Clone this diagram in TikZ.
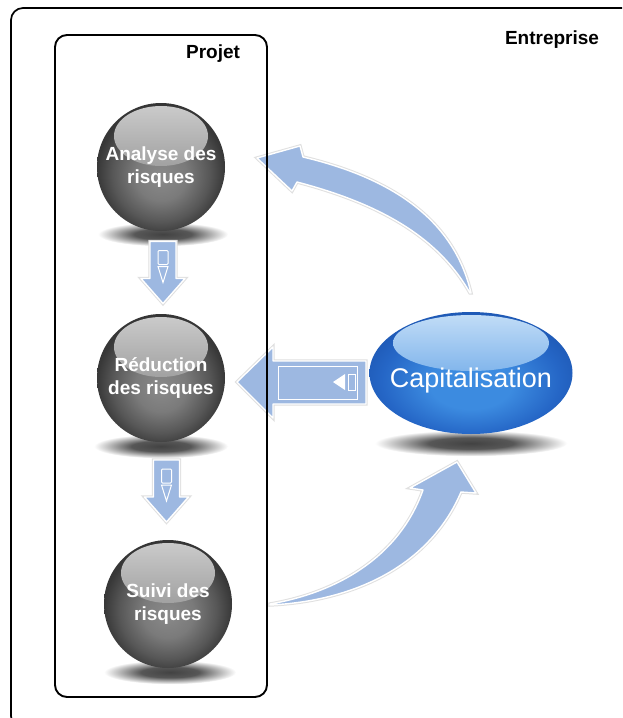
\documentclass[tikz,border=0pt]{standalone}
\usepackage{fontspec}
\setmainfont{Liberation Sans}
\usetikzlibrary{positioning,calc,backgrounds,shapes.geometric}

\definecolor{arrowblue}{HTML}{9DB8E1}
\definecolor{capmid}{HTML}{3C8BE0}
\definecolor{capdark}{HTML}{2566C6}
\definecolor{capdeep}{HTML}{1B52AC}
\definecolor{capgloss}{HTML}{C4DEF7}

\pgfdeclareradialshading{spherebody}{\pgfpoint{0bp}{-4bp}}{color(0bp)=(black!46); color(10bp)=(black!52); color(19bp)=(black!66); color(25bp)=(black!78); color(31bp)=(black!82); color(50bp)=(black!82)}
\pgfdeclareradialshading{capbody}{\pgfpoint{0bp}{-6bp}}{color(0bp)=(capmid); color(10bp)=(capmid); color(22bp)=(capdark); color(31bp)=(capdeep); color(50bp)=(capdeep)}
\pgfdeclareradialshading{blurshadow}{\pgfpoint{0bp}{0bp}}{color(0bp)=(black!74); color(11bp)=(black!66); color(25bp)=(white); color(50bp)=(white)}

\tikzset{
  sphere/.style={circle, minimum size=128pt, inner sep=0pt, shade, shading=spherebody,
    align=center, text=white, font=\bfseries\fontsize{19}{23}\selectfont,
    path picture={\shade[top color=black!20, middle color=black!44, bottom color=black!54] ([yshift=31pt]path picture bounding box.center) ellipse [x radius=47, y radius=30];}},
  capstyle/.style={ellipse, minimum width=203pt, minimum height=122pt, inner sep=0pt, shade, shading=capbody,
    path picture={\shade[top color=capgloss, middle color=capgloss!45!capmid, bottom color=capmid] ([yshift=30pt]path picture bounding box.center) ellipse [x radius=78, y radius=28];}},
  captext/.style={text=white, font=\fontsize{27}{32}\selectfont, text height=29pt, text depth=0pt, inner sep=0pt},
  projframe/.style={line width=1.7pt, rounded corners=12pt},
  boxtitle/.style={font=\bfseries\fontsize{19}{22}\selectfont},
  arrowbody/.style={fill=arrowblue, draw=white, line width=1.4pt, line join=round, preaction={draw=black!12, line width=3.4pt}},
  downarrow/.pic={
    \filldraw[arrowbody] (-13,-31) -- (13,-31) -- (13,6) -- (22,6) -- (0,31) -- (-22,6) -- (-13,6) -- cycle;
    \draw[white, line width=1pt, rounded corners=1pt] (-5,-22) rectangle (5,-8);
    \draw[white, line width=1pt] (-5,-6) -- (5,-6) -- (0,10) -- cycle;
  }
}

\begin{document}
\begin{tikzpicture}[x=1pt, y=-1pt]
\useasboundingbox (0,0) rectangle (622,718);
\begin{scope}
\clip (0,0) rectangle (622,718);
\draw[projframe] (11,8) rectangle (645,728);
\end{scope}
\node[boxtitle] (projet) at (213,54) {Projet};
\node[boxtitle] (entreprise) at (552,40) {Entreprise};

% les trois etapes
\node[sphere] (analyse) at (161,167) {Analyse des\\risques};
\node[sphere] (reduction) at (161,378) {Réduction\\des risques};
\node[sphere] (suivi) at (168,604) {Suivi des\\risques};
\node[capstyle] (capital) at (471,373) {};
\node[captext] (captitle) at (capital.center) {Capitalisation};

% ombres
\begin{scope}[on background layer]
\fill[white] (0,0) rectangle (622,718);
\shade[shading=blurshadow] ($(analyse.south)+(2,3)$) ellipse [x radius=65, y radius=12];
\shade[shading=blurshadow] ($(reduction.south)+(0,4)$) ellipse [x radius=67, y radius=12];
\shade[shading=blurshadow] ($(suivi.south)+(2,4)$) ellipse [x radius=66, y radius=12];
\shade[shading=blurshadow] ($(capital.south)+(0,9)$) ellipse [x radius=96, y radius=13];
\end{scope}

% fleches
\pic at ($(analyse.south)!0.5!(reduction.north)+(2,0)$) {downarrow};
\pic at ($(reduction.south)!0.5!(suivi.north)+(2,0)$) {downarrow};
\filldraw[arrowbody] (237,382) -- (273,347) -- (273,361) -- (366,361) -- (366,404) -- (273,404) -- (273,418) -- cycle;
\draw[white, line width=1pt] (278,366) rectangle (357,399);
\fill[white] (333,382) -- (345,374) -- (345,390) -- cycle;
\draw[white, line width=1pt] (348,374) rectangle (355,390);
\filldraw[arrowbody] (470,293) .. controls (440,240) and (385,205) .. (297,182) -- (292,191) -- (257,158) -- (300,146) -- (303,157) .. controls (400,180) and (455,225) .. (471,293) -- cycle;
\filldraw[arrowbody] (270,605) .. controls (355,601) and (430,565) .. (461,492) -- (476,493) -- (457,462) -- (410,488) -- (423,490) .. controls (400,555) and (340,592) .. (270,604) -- cycle;

\draw[projframe, line width=1.9pt] (55,35) rectangle (267,697);
\end{tikzpicture}
\end{document}
